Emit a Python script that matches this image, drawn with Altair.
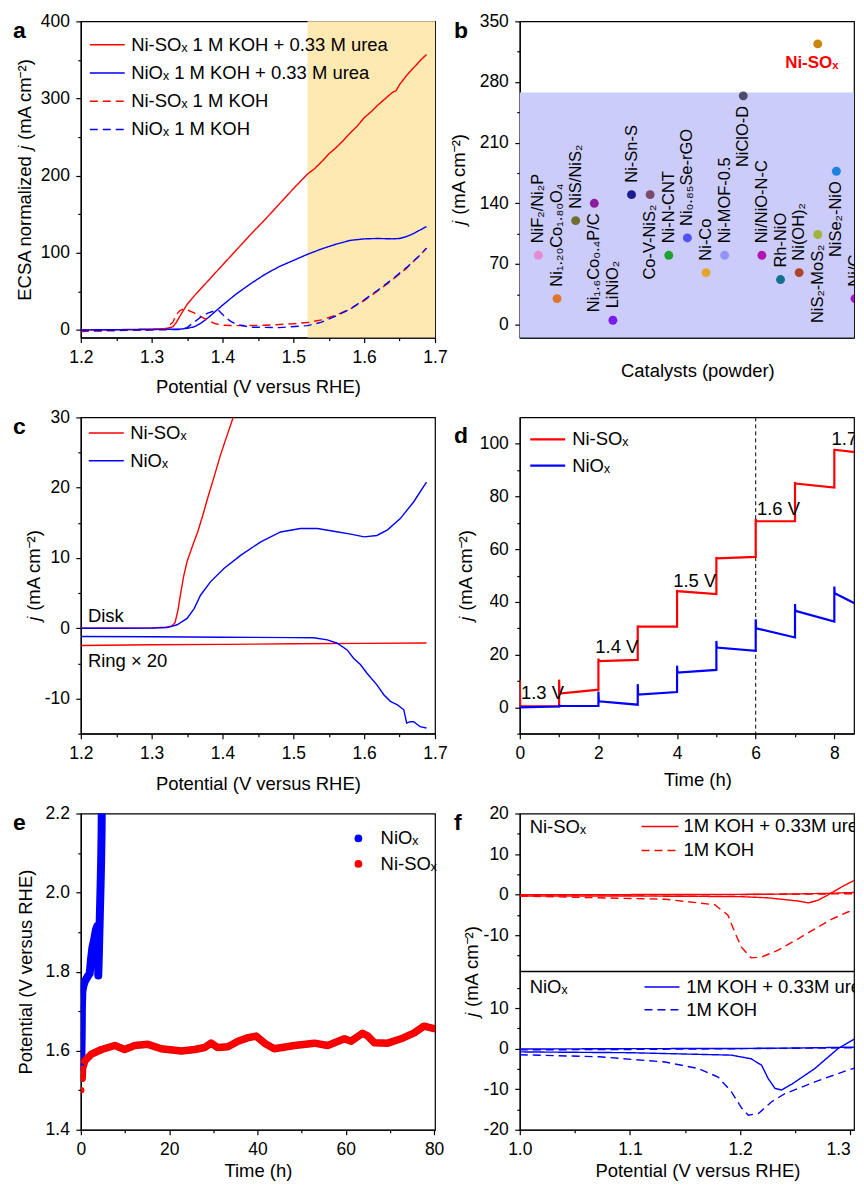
import json
import altair as alt
import pandas as pd

FONT = "Liberation Sans"
RED = "#FF0000"
BLUE = "#0000FF"
SX = "\u2093"
NISOX = "Ni-SO" + SX
NIOX = "NiO" + SX
JI = "\U0001D457"
JT = JI + " (mA cm\u207B\u00B2)"

WL, WR, H = 355, 335, 317

# ---------------- panel a data ----------------
a_series = [NISOX + " 1 M KOH + 0.33 M urea", NIOX + " 1 M KOH + 0.33 M urea",
            NISOX + " 1 M KOH", NIOX + " 1 M KOH"]
a1_v = [1.20, 1.25, 1.30, 1.32, 1.33, 1.335, 1.34, 1.35, 1.36, 1.38, 1.40, 1.42, 1.44, 1.46, 1.48, 1.50,
        1.52, 1.53, 1.54, 1.55, 1.56, 1.57, 1.58, 1.59, 1.60, 1.61, 1.62, 1.63, 1.64, 1.645, 1.65, 1.66,
        1.67, 1.68, 1.688]
a1_j = [0.0, 0.3, 1.0, 1.6, 4.0, 10, 18, 33, 44, 64, 84, 104, 124, 143, 163, 183,
        202, 209, 218, 228, 236, 245, 255, 264, 275, 283, 292, 300, 308, 310, 318, 330,
        340, 350, 357]
a2_v = [1.20, 1.30, 1.34, 1.35, 1.36, 1.37, 1.38, 1.39, 1.40, 1.42, 1.44, 1.46, 1.48, 1.50, 1.52, 1.54,
        1.56, 1.58, 1.60, 1.62, 1.64, 1.65, 1.66, 1.67, 1.68, 1.688]
a2_j = [0, 0.5, 1, 2, 4, 9, 16, 24, 32, 47, 60, 72, 82, 90, 98, 105,
        111, 116, 118, 118.5, 118, 118.5, 121, 125, 130, 134]
a3_v = [1.20, 1.25, 1.30, 1.32, 1.33, 1.335, 1.34, 1.345, 1.35, 1.36, 1.37, 1.38, 1.39, 1.40, 1.42, 1.46,
        1.50, 1.52, 1.54, 1.56, 1.58, 1.60, 1.62, 1.64, 1.66, 1.68, 1.688]
a3_j = [-2, -1, 0, 2, 10, 20, 25, 27, 26, 22, 17, 12, 8, 6, 5.5, 6,
        8, 9.5, 13, 19, 27, 38, 51, 65, 80, 98, 106]
a4_v = [1.20, 1.30, 1.34, 1.35, 1.36, 1.37, 1.38, 1.39, 1.395, 1.40, 1.41, 1.42, 1.44, 1.48, 1.52, 1.54,
        1.56, 1.58, 1.60, 1.62, 1.64, 1.66, 1.68, 1.688]
a4_j = [-1, 0, 0.5, 3, 10, 17, 22, 25, 25, 20, 12, 7, 3.5, 3, 5.5, 10,
        18, 27, 39, 52, 66, 81, 98, 106]
a_shade = [1.52, 1.70]

# ---------------- panel b data ----------------
b_names = ["NiF\u2082/Ni\u2082P", "Ni\u2081.\u2082\u2080Co\u2081.\u2088\u2080O\u2084", "NiS/NiS\u2082",
           "Ni\u2081.\u2086Co\u2080.\u2084P/C", "LiNiO\u2082", "Ni-Sn-S", "Co-V-NiS\u2082", "Ni-N-CNT",
           "Ni\u2080.\u2088\u2085Se-rGO", "Ni-Co", "Ni-MOF-0.5", "NiClO-D", "Ni/NiO-N-C", "Rh-NiO",
           "Ni(OH)\u2082", "NiS\u2082-MoS\u2082", "NiSe\u2082-NiO", "Ni/C"]
b_j = [80, 30, 120, 140, 5, 150, 150, 80, 100, 60, 80, 264, 80, 52, 60, 104, 177, 30]
b_colors = ["#E58AD3", "#E0762E", "#6E6E2E", "#8C1C9C", "#7A1CF0", "#1C1C90", "#7A4868", "#1EA032",
            "#5252F5", "#E3A52A", "#9393F5", "#4C4C6E", "#B214B4", "#14708C", "#B0442A", "#A3B43A",
            "#1E82E0", "#A014D2"]
b_below = ["Ni\u2081.\u2086Co\u2080.\u2084P/C", "Co-V-NiS\u2082", "NiClO-D", "NiS\u2082-MoS\u2082", "NiSe\u2082-NiO"]
b_ours_idx = [16]
b_ours_j = [324]
b_shade_top = [268]
B_PX = 18.667          # pixel pitch of one catalyst slot in the (cropped) panel

# ---------------- panel c data ----------------
c_red_disk_v = [1.20, 1.25, 1.30, 1.32, 1.328, 1.333, 1.337, 1.341, 1.345, 1.350, 1.358, 1.365, 1.372,
                1.379, 1.388, 1.397, 1.406, 1.415, 1.42]
c_red_disk_j = [0.0, 0.0, 0.05, 0.15, 0.3, 0.8, 2.5, 5.0, 7.3, 9.5, 11.8, 13.7, 16.0,
                18.5, 21.5, 24.6, 27.3, 30.0, 31.5]
c_red_ring_v = [1.20, 1.30, 1.40, 1.50, 1.60, 1.688]
c_red_ring_j = [-2.45, -2.35, -2.3, -2.2, -2.15, -2.1]
c_blue_disk_v = [1.20, 1.30, 1.322, 1.336, 1.35, 1.36, 1.369, 1.383, 1.402, 1.426, 1.454, 1.482, 1.51,
                 1.534, 1.557, 1.581, 1.60, 1.618, 1.633, 1.651, 1.67, 1.688]
c_blue_disk_j = [0, 0.02, 0.1, 0.5, 1.4, 2.8, 4.7, 6.6, 8.5, 10.4, 12.3, 13.7, 14.2,
                 14.2, 13.8, 13.4, 13.0, 13.2, 14.0, 15.6, 18.0, 20.8]
c_blue_ring_v = [1.20, 1.30, 1.40, 1.50, 1.529, 1.548, 1.562, 1.576, 1.585, 1.595, 1.604, 1.618, 1.628,
                 1.637, 1.647, 1.656, 1.66, 1.665, 1.67, 1.675, 1.679, 1.688]
c_blue_ring_j = [-1.18, -1.2, -1.28, -1.33, -1.35, -1.66, -2.13, -3.08, -4.27, -5.2, -6.4, -8.06, -9.5,
                 -10.4, -10.9, -11.6, -13.5, -13.3, -13.3, -13.7, -14.0, -14.2]
c_notes = ["Disk", "Ring \u00D7 20"]
c_note_v = [1.21, 1.21]
c_note_j = [0.95, -5.45]

# ---------------- panel d data ----------------
d_red_spike = [10.5, 10.5, 18.5, 31.0, 44.5, 57.0, 71.5, 85.5, 98.0]
d_red_start = [0.5, 5.2, 17.5, 30.6, 44.1, 56.5, 70.6, 84.9, 97.7]
d_red_end = [0.4, 6.7, 18.0, 30.6, 43.0, 57.1, 70.6, 83.4, 96.5]
d_blue_spike = [0.5, 1.0, 6.0, 8.8, 15.8, 25.2, 33.4, 39.2, 45.8]
d_blue_start = [0.0, 0.5, 2.3, 4.8, 13.2, 22.7, 30.0, 36.6, 43.3]
d_blue_end = [0.3, 0.5, 1.0, 5.8, 14.2, 21.4, 26.5, 32.5, 37.8]
d_t_last = 8.73        # last time
D_PX = 39.41           # pixels per hour
d_marker_t = [6]
d_labels = ["1.3 V", "1.4 V", "1.5 V", "1.6 V", "1.7 V"]
d_label_t = [0.03, 1.92, 3.9, 6.03, 7.93]
d_label_j = [3.0, 20.5, 45.8, 73.0, 99.4]

# ---------------- panel e data ----------------
e_red_t = [0.1, 0.3, 0.4, 0.9, 2.4, 4.7, 7.7, 9.9, 12.2, 15.2, 18.2, 22.8, 25.8, 28.0, 29.5, 31.0, 33.3,
           35.6, 37.9, 39.7, 41.6, 43.8, 48.4, 52.9, 55.9, 59.7, 61.2, 63.8, 65.0, 66.5, 69.5, 72.5,
           75.5, 77.7, 80.0]
e_red_v = [1.50, 1.53, 1.555, 1.574, 1.591, 1.603, 1.613, 1.603, 1.613, 1.616, 1.605, 1.599, 1.603,
           1.608, 1.619, 1.608, 1.610, 1.624, 1.633, 1.637, 1.619, 1.605, 1.613, 1.619, 1.613, 1.630,
           1.624, 1.644, 1.637, 1.620, 1.619, 1.630, 1.645, 1.662, 1.656]
e_blue_t = [0.1, 0.2, 0.25, 0.35, 0.6, 0.9, 1.4, 2.0, 2.3, 2.6, 3.0, 3.4, 3.7, 3.85, 3.95, 4.1, 4.3,
            4.5, 4.6, 4.7, 4.8]
e_blue_v = [1.56, 1.64, 1.71, 1.75, 1.765, 1.775, 1.785, 1.795, 1.83, 1.86, 1.88, 1.905, 1.915, 1.88,
            1.79, 1.85, 1.94, 2.03, 2.08, 2.15, 2.30]

# ---------------- panel f data ----------------
f_conds = ["1M KOH + 0.33M urea", "1M KOH"]
f_top_urea_fwd_v = [1.0, 1.1, 1.2, 1.25, 1.28, 1.312]
f_top_urea_fwd_j = [0.0, 0.0, 0.05, 0.15, 0.3, 0.6]
f_top_urea_rev_v = [1.0, 1.1, 1.2, 1.225, 1.2376, 1.2527, 1.262, 1.2707, 1.281, 1.295, 1.307, 1.312]
f_top_urea_rev_j = [-0.35, -0.35, -0.5, -0.8, -1.15, -1.6, -2.05, -1.4, 0.1, 2.3, 3.95, 5.9]
f_top_koh_rev_v = [1.0, 1.072, 1.132, 1.177, 1.189, 1.195, 1.201, 1.21, 1.2195, 1.2346, 1.2527, 1.2707,
                   1.2828, 1.2978, 1.312]
f_top_koh_rev_j = [-0.35, -0.8, -1.15, -2.5, -5.1, -9.2, -12.9, -15.6, -15.4, -13.7, -10.9, -8.0,
                   -6.1, -4.3, -3.0]
f_top_koh_fwd_v = [1.0, 1.1, 1.2, 1.3, 1.312]
f_top_koh_fwd_j = [-0.2, -0.1, 0.0, 0.2, 0.3]
f_bot_urea_fwd_v = [1.0, 1.1, 1.2, 1.25, 1.3, 1.312]
f_bot_urea_fwd_j = [-0.1, 0.0, 0.05, 0.15, 0.35, 0.4]
f_bot_urea_rev_v = [1.0, 1.1, 1.192, 1.21, 1.2195, 1.2255, 1.2316, 1.2376, 1.2467, 1.2678, 1.2888, 1.312]
f_bot_urea_rev_j = [-0.8, -1.0, -1.6, -2.5, -4.1, -7.4, -9.8, -10.2, -8.8, -4.9, 0.0, 3.7]
f_bot_koh_rev_v = [1.0, 1.072, 1.132, 1.162, 1.18, 1.192, 1.2015, 1.2075, 1.2166, 1.2286, 1.2406,
                   1.2678, 1.2978, 1.312]
f_bot_koh_rev_j = [-1.5, -2.0, -3.3, -4.9, -7.0, -10.6, -14.7, -16.4, -16.0, -13.1, -11.1, -8.2,
                   -5.3, -4.1]
f_bot_koh_fwd_v = [1.0, 1.1, 1.2, 1.3, 1.312]
f_bot_koh_fwd_j = [-0.3, -0.2, 0.0, 0.2, 0.3]
F_SHIFT = 38          # top sub-panel is stacked above the bottom one on a shared scale
F_PX = 1104.3         # pixels per volt
F_DOM = [1.0, 1.0 + WR / F_PX]
f_divider = [19]
f_note_v = [1.009]
f_note_top_j = [15.1]
f_note_bot_j = [13.8]
# in-plot legend keys (potential range of the key line, label start, rows)
f_key_top_v = [1.1105, 1.1440, 1.1485]
f_key_top_j = [16.8, 10.9]
f_key_bot_v = [1.1132, 1.1449, 1.1512]
f_key_bot_j = [15.2, 9.6]


# ---------------- helpers ----------------
def axis(major, minor, fmt, title, **kw):
    maj = json.dumps(major)
    return alt.Axis(
        values=sorted(major + minor), format=fmt, title=title,
        labelExpr=f"indexof({maj}, datum.value) >= 0 ? replace(datum.label, '\u2212', '-') : ''",
        tickSize={"condition": {"test": f"indexof({maj}, datum.value) < 0", "value": 3}, "value": 5},
        labelOverlap=False, labelFlush=False, grid=False, **kw)


def sc(dom):
    return alt.Scale(domain=dom, nice=False, zero=False)


def rows(vs, js, **extra):
    out = []
    for i, (v, j) in enumerate(zip(vs, js)):
        r = {"v": v, "j": j, "i": i}
        r.update(extra)
        out.append(r)
    return pd.DataFrame(out)


def leg(**kw):
    base = dict(title=None, orient="none", clipHeight=24, labelFontSize=18.5, labelFont=FONT,
                labelColor="black", labelLimit=0, padding=0)
    base.update(kw)
    return alt.Legend(**base)


def ptitle(t, dx):
    return alt.TitleParams(t, dx=dx, dy=35)


# ---------------- panel a ----------------
df_a = pd.concat([rows(vv, jj, series=nm) for nm, vv, jj in
                  zip(a_series, [a1_v, a2_v, a3_v, a4_v], [a1_j, a2_j, a3_j, a4_j])])
ax_a = axis([1.2, 1.3, 1.4, 1.5, 1.6, 1.7], [1.25, 1.35, 1.45, 1.55, 1.65], ".1f",
            "Potential (V versus RHE)", titleY=49, titleBaseline="middle")
ay_a = axis([0, 100, 200, 300, 400], [50, 150, 250, 350], "d", "ECSA normalized " + JT,
            titleX=-56, titleBaseline="middle")
leg_a = leg(legendX=8, legendY=11.5, symbolSize=1225, rowPadding=4.3, labelOffset=5.5, symbolStrokeWidth=1.5)
shade_a = alt.Chart(pd.DataFrame({"lo": [a_shade[0]], "hi": [a_shade[1]]})).mark_rect(
    color="#FFE9B3").encode(x=alt.X("lo:Q", scale=sc([1.2, 1.7]), axis=ax_a), x2="hi:Q",
                            y=alt.value(0), y2=alt.value(H))
lines_a = alt.Chart(df_a).mark_line(strokeWidth=1.4, clip=True).encode(
    x=alt.X("v:Q", scale=sc([1.2, 1.7]), axis=ax_a),
    y=alt.Y("j:Q", scale=sc([-10, 400]), axis=ay_a),
    order="i:Q",
    color=alt.Color("series:N", scale=alt.Scale(domain=a_series, range=[RED, BLUE, RED, BLUE]), legend=leg_a),
    strokeDash=alt.StrokeDash("series:N", scale=alt.Scale(domain=a_series, range=[[1, 0], [1, 0], [8, 5], [8, 5]]),
                              legend=leg_a))
chart_a = alt.layer(shade_a, lines_a).properties(width=WL, height=H, title=ptitle("a", -68))

# ---------------- panel b ----------------
df_b = pd.DataFrame({"cat": b_names, "idx": list(range(1, len(b_names) + 1)), "j": b_j})
ax_b = alt.Axis(labels=False, ticks=False, grid=False, title="Catalysts (powder)", titleX=178, titleY=33,
                titleBaseline="middle")
ay_b = axis([0, 70, 140, 210, 280, 350], [35, 105, 175, 245, 315], "d", JT, titleX=-61, titleBaseline="middle")
xb = alt.X("idx:Q", scale=sc([0, WR / B_PX]), axis=ax_b)
yb = alt.Y("j:Q", scale=sc([-15, 350]), axis=ay_b)
shade_b = alt.Chart(pd.DataFrame({"top": b_shade_top})).mark_rect(color="#CCCCFA").encode(
    x=alt.value(0), x2=alt.value(WR), y=alt.Y("top:Q", scale=sc([-15, 350]), axis=ay_b), y2=alt.value(H))
pts_b = alt.Chart(df_b).mark_circle(size=80, opacity=1, clip=True).encode(
    x=xb, y=yb, color=alt.Color("cat:N", scale=alt.Scale(domain=b_names, range=b_colors), legend=None))
lab_up = alt.Chart(df_b[~df_b["cat"].isin(b_below)]).mark_text(
    angle=270, align="left", baseline="middle", dx=12, fontSize=16.5, color="black", clip=True).encode(
    x=xb, y=yb, text="cat:N")
lab_dn = alt.Chart(df_b[df_b["cat"].isin(b_below)]).mark_text(
    angle=270, align="right", baseline="middle", dx=-10, fontSize=16.5, color="black", clip=True).encode(
    x=xb, y=yb, text="cat:N")
df_ours = pd.DataFrame({"idx": b_ours_idx, "j": b_ours_j, "cat": [NISOX]})
pt_ours = alt.Chart(df_ours).mark_circle(size=80, opacity=1, color="#C8860E").encode(x=xb, y=yb)
lab_ours = alt.Chart(df_ours).mark_text(fontWeight="bold", color=RED, fontSize=17, baseline="middle",
                                        align="center", dy=19, dx=-6).encode(x=xb, y=yb, text="cat:N")
chart_b = alt.layer(shade_b, pts_b, lab_up, lab_dn, pt_ours, lab_ours).properties(
    width=WR, height=H, title=ptitle("b", -66))

# ---------------- panel c ----------------
df_c = pd.concat([
    rows(c_red_disk_v, c_red_disk_j, sample=NISOX, part="disk"),
    rows(c_red_ring_v, c_red_ring_j, sample=NISOX, part="ring"),
    rows(c_blue_disk_v, c_blue_disk_j, sample=NIOX, part="disk"),
    rows(c_blue_ring_v, c_blue_ring_j, sample=NIOX, part="ring"),
])
ax_c = axis([1.2, 1.3, 1.4, 1.5, 1.6, 1.7], [1.25, 1.35, 1.45, 1.55, 1.65], ".1f",
            "Potential (V versus RHE)", titleY=50, titleBaseline="middle")
ay_c = axis([-10, 0, 10, 20, 30], [-15, -5, 5, 15, 25], "d", JT, titleX=-47, titleBaseline="middle")
xc = alt.X("v:Q", scale=sc([1.2, 1.7]), axis=ax_c)
yc = alt.Y("j:Q", scale=sc([-15, 30]), axis=ay_c)
lines_c = alt.Chart(df_c).mark_line(strokeWidth=1.4, clip=True).encode(
    x=xc, y=yc, order="i:Q", detail="part:N",
    color=alt.Color("sample:N", scale=alt.Scale(domain=[NISOX, NIOX], range=[RED, BLUE]),
                    legend=leg(legendX=7, legendY=3.5, symbolSize=1225, rowPadding=4, labelOffset=5.5,
                               symbolStrokeWidth=1.5)))
notes_c = alt.Chart(pd.DataFrame({"v": c_note_v, "j": c_note_j, "t": c_notes})).mark_text(
    align="left", baseline="alphabetic", fontSize=18.5, color="black").encode(x=xc, y=yc, text="t:N")
chart_c = alt.layer(lines_c, notes_c).properties(width=WL, height=H, title=ptitle("c", -68))

# ---------------- panel d ----------------
d_rows = []
for name, spk, st, en in [(NISOX, d_red_spike, d_red_start, d_red_end),
                          (NIOX, d_blue_spike, d_blue_start, d_blue_end)]:
    k = 0
    for s in range(len(spk)):
        t0, t1 = s, min(s + 1, d_t_last)
        for t, j in [(t0, spk[s]), (t0 + 0.01, st[s]), (t1, en[s])]:
            d_rows.append({"sample": name, "t": t, "j": j, "i": k})
            k += 1
df_d = pd.DataFrame(d_rows)
ax_d = axis([0, 2, 4, 6, 8], [1, 3, 5, 7], "d", "Time (h)", titleX=178, titleY=46, titleBaseline="middle")
ay_d = axis([0, 20, 40, 60, 80, 100], [-10, 10, 30, 50, 70, 90], "d", JT, titleX=-54, titleBaseline="middle")
xd = alt.X("t:Q", scale=sc([0, WR / D_PX]), axis=ax_d)
yd = alt.Y("j:Q", scale=sc([-10, 110]), axis=ay_d)
lines_d = alt.Chart(df_d).mark_line(strokeWidth=2.2, clip=True).encode(
    x=xd, y=yd, order="i:Q",
    color=alt.Color("sample:N", scale=alt.Scale(domain=[NISOX, NIOX], range=[RED, BLUE]),
                    legend=leg(legendX=9, legendY=10, symbolSize=1225, rowPadding=2.3, labelOffset=5.5,
                               symbolStrokeWidth=2.2)))
mark_d = alt.Chart(pd.DataFrame({"t": d_marker_t})).mark_rule(color="black", strokeDash=[4, 3], strokeWidth=1).encode(
    x=xd, y=alt.value(0), y2=alt.value(H))
lab_d = alt.Chart(pd.DataFrame({"t": d_label_t, "j": d_label_j, "s": d_labels})).mark_text(
    align="left", baseline="alphabetic", fontSize=18.5, color="black", clip=True).encode(x=xd, y=yd, text="s:N")
chart_d = alt.layer(mark_d, lines_d, lab_d).properties(width=WR, height=H, title=ptitle("d", -66))

# ---------------- panel e ----------------
df_e = pd.concat([
    rows(e_blue_t, e_blue_v, sample=NIOX),
    rows(e_red_t, e_red_v, sample=NISOX),
])
ax_e = axis([0, 20, 40, 60, 80], [10, 30, 50, 70], "d", "Time (h)", titleY=41, titleBaseline="middle")
ay_e = axis([1.4, 1.6, 1.8, 2.0, 2.2], [1.5, 1.7, 1.9, 2.1], ".1f", "Potential (V versus RHE)",
            titleX=-55, titleBaseline="middle")
xe = alt.X("v:Q", scale=sc([0, 80.2]), axis=ax_e)
ye = alt.Y("j:Q", scale=sc([1.4, 2.2]), axis=ay_e)
red_e = df_e[(df_e["sample"] == NISOX) & (df_e["i"] > 0)]
blue_e = df_e[df_e["sample"] == NIOX]
band_red_o = alt.Chart(red_e).mark_line(strokeWidth=7.5, color="#E00000", strokeCap="round", strokeJoin="round",
                                        clip=True).encode(x=xe, y=ye, order="i:Q")
band_red = alt.Chart(red_e).mark_line(strokeWidth=5.5, color=RED, strokeCap="round", strokeJoin="round",
                                      clip=True).encode(x=xe, y=ye, order="i:Q")
band_blue = alt.Chart(blue_e).mark_line(strokeWidth=8, color=BLUE, strokeCap="round", strokeJoin="round",
                                        clip=True).encode(x=xe, y=ye, order="i:Q")
pts_e = alt.Chart(df_e).mark_circle(size=40, opacity=1, clip=True).encode(
    x=xe, y=ye,
    color=alt.Color("sample:N", scale=alt.Scale(domain=[NIOX, NISOX], range=[BLUE, RED]),
                    legend=leg(legendX=269, legendY=13, symbolType="circle", symbolSize=60, rowPadding=1.6,
                               labelOffset=13, symbolStrokeWidth=0)))
chart_e = alt.layer(band_blue, band_red_o, band_red, pts_e).properties(width=WL, height=H, title=ptitle("e", -68))

# ---------------- panel f ----------------
df_f_top = pd.concat([
    rows(f_top_urea_fwd_v, f_top_urea_fwd_j, cond=f_conds[0], branch="fwd"),
    rows(f_top_urea_rev_v, f_top_urea_rev_j, cond=f_conds[0], branch="rev"),
    rows(f_top_koh_fwd_v, f_top_koh_fwd_j, cond=f_conds[1], branch="fwd"),
    rows(f_top_koh_rev_v, f_top_koh_rev_j, cond=f_conds[1], branch="rev"),
])
df_f_bot = pd.concat([
    rows(f_bot_urea_fwd_v, f_bot_urea_fwd_j, cond=f_conds[0], branch="fwd"),
    rows(f_bot_urea_rev_v, f_bot_urea_rev_j, cond=f_conds[0], branch="rev"),
    rows(f_bot_koh_fwd_v, f_bot_koh_fwd_j, cond=f_conds[1], branch="fwd"),
    rows(f_bot_koh_rev_v, f_bot_koh_rev_j, cond=f_conds[1], branch="rev"),
])
f_major = [-20, -10, 0, 10, 28, 38, 48, 58]
f_minor = [-15, -5, 5, 15, 23, 33, 43, 53]
fm = json.dumps(f_major)
ay_f = alt.Axis(
    values=sorted(f_major + f_minor), title=JT, titleX=-48, titleBaseline="middle",
    labelExpr=(f"indexof({fm}, datum.value) < 0 ? '' : "
               f"replace(format(datum.value > 19 ? datum.value - {F_SHIFT} : datum.value, 'd'), '\u2212', '-')"),
    tickSize={"condition": {"test": f"indexof({fm}, datum.value) < 0", "value": 3}, "value": 5},
    labelOverlap=False, labelFlush=False, grid=False)
ax_f = axis([1.0, 1.1, 1.2, 1.3], [1.05, 1.15, 1.25], ".1f", "Potential (V versus RHE)",
            titleX=178, titleY=41, titleBaseline="middle",
            labelAlign={"condition": {"test": "datum.value > 1.29", "value": "right"}, "value": "center"})
xf = alt.X("v:Q", scale=sc(F_DOM), axis=ax_f)
yf = alt.Y("jp:Q", scale=sc([-20, 58]), axis=ay_f)
dash_f = alt.StrokeDash("cond:N", scale=alt.Scale(domain=f_conds, range=[[1, 0], [8, 5]]), legend=None)
top_f = alt.Chart(df_f_top).transform_calculate(jp=f"datum.j + {F_SHIFT}").mark_line(
    strokeWidth=1.4, color=RED, clip=True).encode(x=xf, y=yf, order="i:Q", detail="branch:N", strokeDash=dash_f)
bot_f = alt.Chart(df_f_bot).transform_calculate(jp="datum.j").mark_line(
    strokeWidth=1.4, color=BLUE, clip=True).encode(x=xf, y=yf, order="i:Q", detail="branch:N", strokeDash=dash_f)
div_f = alt.Chart(pd.DataFrame({"jp": f_divider})).mark_rule(color="black", strokeWidth=1.5).encode(
    y=yf, x=alt.value(0), x2=alt.value(WR))


def f_notes(vs, js, texts, shift):
    return alt.Chart(pd.DataFrame({"v": vs, "j": js, "t": texts})).transform_calculate(
        jp=f"datum.j + {shift}").mark_text(align="left", baseline="alphabetic", fontSize=18.5,
                                            color="black", clip=True).encode(x=xf, y=yf, text="t:N")


def f_key(kv, kj, shift, color):
    df = pd.DataFrame({"v0": [kv[0]] * 2, "v1": [kv[1]] * 2, "vt": [kv[2]] * 2, "j": kj, "cond": f_conds})
    base = alt.Chart(df).transform_calculate(jp=f"datum.j + {shift}")
    keyline = base.mark_rule(strokeWidth=1.5, color=color, clip=True).encode(
        x=alt.X("v0:Q", scale=sc(F_DOM), axis=ax_f), x2="v1:Q", y=yf, strokeDash=dash_f)
    keytext = base.mark_text(align="left", baseline="middle", fontSize=18.5, color="black", clip=True).encode(
        x=alt.X("vt:Q", scale=sc(F_DOM), axis=ax_f), y=yf, text="cond:N")
    return alt.layer(keyline, keytext)


notes_f_top = f_notes(f_note_v, f_note_top_j, [NISOX], F_SHIFT)
notes_f_bot = f_notes(f_note_v, f_note_bot_j, [NIOX], 0)
chart_f = alt.layer(div_f, top_f, bot_f, notes_f_top, notes_f_bot,
                    f_key(f_key_top_v, f_key_top_j, F_SHIFT, RED),
                    f_key(f_key_bot_v, f_key_bot_j, 0, BLUE)).properties(
    width=WR, height=H, title=ptitle("f", -66))

# ---------------- assemble ----------------
chart = alt.concat(chart_a, chart_b, chart_c, chart_d, chart_e, chart_f, columns=2,
                   spacing=alt.RowColnumber(row=80, column=85), bounds="flush", align="each").resolve_scale(
    color="independent", strokeDash="independent").resolve_legend(
    color="independent", strokeDash="independent").properties(
    padding={"left": 4, "top": 2, "right": 0, "bottom": -1}
).configure(font=FONT).configure_view(stroke="black", strokeWidth=1.2).configure_axis(
    domainColor="black", domainWidth=1.2, tickColor="black", tickWidth=1.2, labelColor="black",
    labelFont=FONT, labelFontSize=17.5, titleFont=FONT, titleFontSize=18.5, titleFontWeight="normal",
    titleColor="black", grid=False
).configure_axisX(labelPadding=6).configure_axisY(labelPadding=6.5).configure_title(
    font=FONT, fontSize=23, fontWeight="bold", anchor="start", frame="group", baseline="alphabetic",
    offset=0, color="black")

chart.save("out.html", embed_options={"renderer": "svg", "actions": False})
